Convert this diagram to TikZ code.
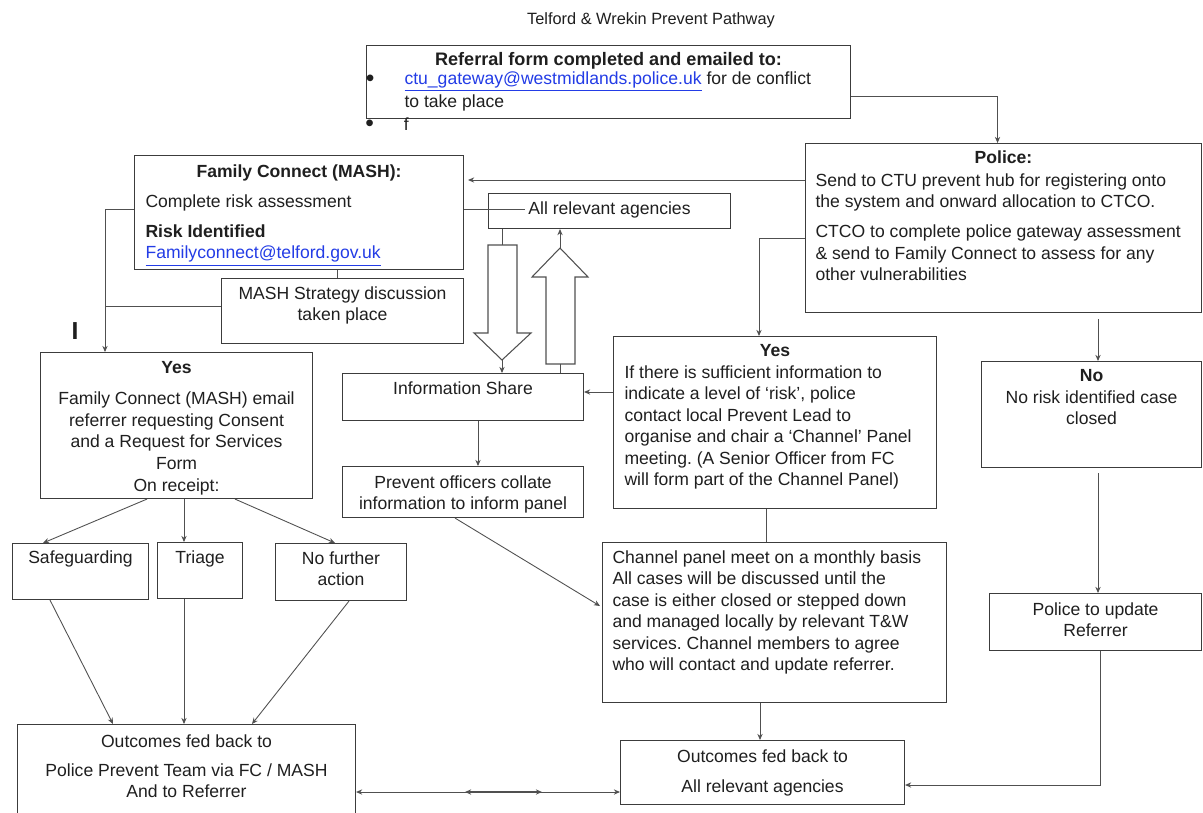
\documentclass[tikz,border=0pt]{standalone}
\usepackage{fontspec}
\setmainfont{Liberation Sans}
\usetikzlibrary{arrows.meta}

\definecolor{boxgray}{RGB}{60,60,60}
\definecolor{linegray}{RGB}{80,80,80}
\definecolor{linkblue}{RGB}{35,60,230}

\frenchspacing
\newlength{\px}
\setlength{\px}{0.02cm}
\newcommand{\boxtext}[3]{\parbox[t][#2\px][t]{#1\px}{#3}}
\newcommand{\emaillink}[1]{\textcolor{linkblue}{\underline{#1}}}
\newcommand{\bigdot}{\raisebox{-1pt}{\fontsize{14}{14}\selectfont\textbullet}}

\tikzset{
	box/.style={draw=boxgray, line width=0.6pt, inner sep=0pt, anchor=north west},
	conn/.style={draw=linegray, line width=0.5pt},
	arr/.style={conn, -{Stealth[length=3.5pt,width=3pt]}},
	blockarrow/.style={draw=linegray, line width=0.6pt, fill=white},
}

\begin{document}
\begin{tikzpicture}[x=0.02cm,y=-0.02cm,font=\fontsize{10}{12.24}\selectfont,text=black!88]
	\fill[white] (0,0) rectangle (1203,812);
	\useasboundingbox (0,0) rectangle (1203,812);
	%========
	%Top
	%========
	\node[font=\fontsize{9.3}{11}\selectfont] (title) at (651,20) {Telford \& Wrekin Prevent Pathway};
	
	\node[box] (ref) at (366,45) {\boxtext{484}{73}{%
		\vspace*{7\px}{\centering\fontsize{10.3}{12.24}\selectfont\bfseries Referral form completed and emailed to:\par}%
		\vspace{-2.5\px}%
		{\raggedright\leftskip=38\px\leavevmode\llap{\bigdot\hspace{30\px}}\emaillink{ctu\_gateway@westmidlands.police.uk} for de conflict\\[1.5\px]
		to take place\par}}};
	\node[anchor=base west,inner sep=0pt] (fline) at (365,130) {\bigdot\hspace{30\px}f};
	
	\node[box] (pol) at (805,143) {\boxtext{396}{169}{%
		\vspace*{7\px}{\centering\bfseries Police:\par}%
		\vspace{1.5\px}%
		{\raggedright\leftskip=10\px Send to CTU prevent hub for registering onto\\
		the system and onward allocation to CTCO.\\[8.5\px]
		CTCO to complete police gateway assessment\\
		\& send to Family Connect to assess for any\\
		other vulnerabilities\par}}};
	
	\node[box] (fc) at (134,155) {\boxtext{329}{114}{%
		\vspace*{9\px}{\centering\bfseries Family Connect (MASH):\par}%
		\vspace{8.5\px}%
		{\raggedright\leftskip=11\px Complete risk assessment\\[8.5\px]
		\textbf{Risk Identified}\\
		\emaillink{Familyconnect@telford.gov.uk}\par}}};
	
	\node[box] (ara) at (488,193) {\boxtext{242}{35}{\vspace*{8\px}\centering All relevant agencies\par}};
	\node[box] (mash) at (221,278) {\boxtext{242}{65}{\vspace*{8\px}\centering MASH Strategy discussion\\ taken place\par}};
	
	\node[font=\fontsize{14}{16}\selectfont\bfseries] (mark) at (75,331) {I};
	
	%========
	%Middle
	%========
	\node[box] (yesl) at (40,352) {\boxtext{272}{146}{\vspace*{9\px}\centering
		\textbf{Yes}\\[9.5\px]
		Family Connect (MASH) email\\
		referrer requesting Consent\\
		and a Request for Services\\
		Form\\[1\px]
		On receipt:\par}};
	
	\node[box] (info) at (342,373) {\boxtext{241}{47}{\vspace*{8\px}\centering Information Share\par}};
	\node[box] (prev) at (342,466) {\boxtext{241}{51}{\vspace*{9\px}\centering Prevent officers collate\\ information to inform panel\par}};
	
	\node[box] (yesr) at (613,336) {\boxtext{323}{172}{%
		\vspace*{8\px}{\centering\bfseries Yes\par}%
		{\raggedright\leftskip=11\px If there is sufficient information to\\
		indicate a level of `risk', police\\
		contact local Prevent Lead to\\
		organise and chair a `Channel' Panel\\
		meeting. (A Senior Officer from FC\\
		will form part of the Channel Panel)\par}}};
	
	\node[box] (no) at (981,361) {\boxtext{220}{106}{\vspace*{8\px}\centering \textbf{No}\\ No risk identified case\\ closed\par}};
	
	%========
	%Lower
	%========
	\node[box] (safe) at (12,543) {\boxtext{136}{56}{\vspace*{7\px}\centering Safeguarding\par}};
	\node[box] (tri) at (157,542) {\boxtext{85}{56}{\vspace*{8\px}\centering Triage\par}};
	\node[box] (nfa) at (275,543) {\boxtext{131}{57}{\vspace*{8\px}\centering No further\\ action\par}};
	
	\node[box] (chan) at (602,542) {\boxtext{344}{160}{%
		\vspace*{8\px}{\raggedright\leftskip=10\px Channel panel meet on a monthly basis\\
		All cases will be discussed until the\\
		case is either closed or stepped down\\
		and managed locally by relevant T\&W\\
		services. Channel members to agree\\
		who will contact and update referrer.\par}}};
	
	\node[box] (ptu) at (989,593) {\boxtext{212}{57}{\vspace*{9\px}\centering Police to update\\ Referrer\par}};
	
	\node[box] (outl) at (17,724) {\boxtext{338}{100}{\vspace*{10\px}\centering
		Outcomes fed back to\\[7.5\px]
		Police Prevent Team via FC / MASH\\
		And to Referrer\par}};
	\node[box] (outr) at (620,740) {\boxtext{284}{64}{\vspace*{9\px}\centering
		Outcomes fed back to\\[8.5\px]
		All relevant agencies\par}};
	
	%========
	%Block arrows
	%========
	\draw[blockarrow] (488,245) -- (517,245) -- (517,333) -- (531,333) -- (502,360) -- (474,333) -- (488,333) -- cycle;	%down
	\draw[blockarrow] (546,364) -- (575,364) -- (575,277) -- (588,277) -- (560,248) -- (532,277) -- (546,277) -- cycle;	%up
	\coordinate (dtop) at (502,245);
	\coordinate (dtip) at (502,360);
	\coordinate (utip) at (560,248);
	\coordinate (ubot) at (560,364);
	\coordinate (jl) at (105,306);
	\coordinate (m1) at (465,792);
	\coordinate (m2) at (542,792);
	
	%========
	%Connectors
	%========
	\draw[arr] (ref.east |- 0,96) -| ([xshift=-6\px]pol.north);
	\draw[arr] (pol.west |- 0,180) -- ([xshift=4\px]fc.east |- 0,180);
	\draw[arr] (pol.west |- 0,238) -| (yesr.north -| 759,0);
	\draw[conn] (fc.east |- 0,209) -- ([xshift=37\px]ara.west |- 0,209);
	\draw[arr] (fc.west |- 0,209) -| (yesl.north -| jl);
	\draw[conn] (mash.west |- jl) -- (jl);
	\draw[conn] (fc.south -| 337,0) -- (mash.north -| 337,0);
	
	\draw[conn] (ara.south -| dtop) -- (dtop);
	\draw[arr] (dtip) -- (info.north -| dtip);
	\draw[conn] (info.north -| ubot) -- (ubot);
	\draw[arr] (utip) -- (ara.south -| utip);
	
	\draw[arr] (yesr.west |- 0,392) -- (info.east |- 0,392);
	\draw[arr] (info.south -| 478,0) -- (prev.north -| 478,0);
	\draw[arr] (prev.south -| 455,0) -- ([xshift=-2\px]chan.west |- 0,606);
	\draw[conn] (yesr.south -| 766,0) -- (chan.north -| 766,0);
	\draw[arr] (chan.south -| 760,0) -- (outr.north -| 760,0);
	
	\draw[arr,shorten <=6\px] (pol.south -| 1098,0) -- (no.north -| 1098,0);
	\draw[arr,shorten <=5\px] (no.south -| 1098,0) -- (ptu.north -| 1098,0);
	\draw[arr] (ptu.south -| 1100,0) |- (outr.east |- 0,785);
	
	\draw[arr] (yesl.south -| 147,0) -- (safe.north -| 43,0);
	\draw[arr] (yesl.south -| 184,0) -- (tri.north -| 184,0);
	\draw[arr] (yesl.south -| 235,0) -- (nfa.north -| 335,0);
	
	\draw[arr] (safe.south -| 50,0) -- (outl.north -| 113,0);
	\draw[arr] (tri.south -| 184,0) -- (outl.north -| 184,0);
	\draw[arr] (nfa.south -| 349,0) -- (outl.north -| 252,0);
	
	\draw[conn,{Stealth[length=3.5pt,width=3pt]}-{Stealth[length=3.5pt,width=3pt]}] (outl.east |- m1) -- (outr.west |- m1);
	\draw[conn,line width=0.9pt,{Stealth[length=3.5pt,width=3pt]}-{Stealth[length=3.5pt,width=3pt]}] (m1) -- (m2);
\end{tikzpicture}
\end{document}
